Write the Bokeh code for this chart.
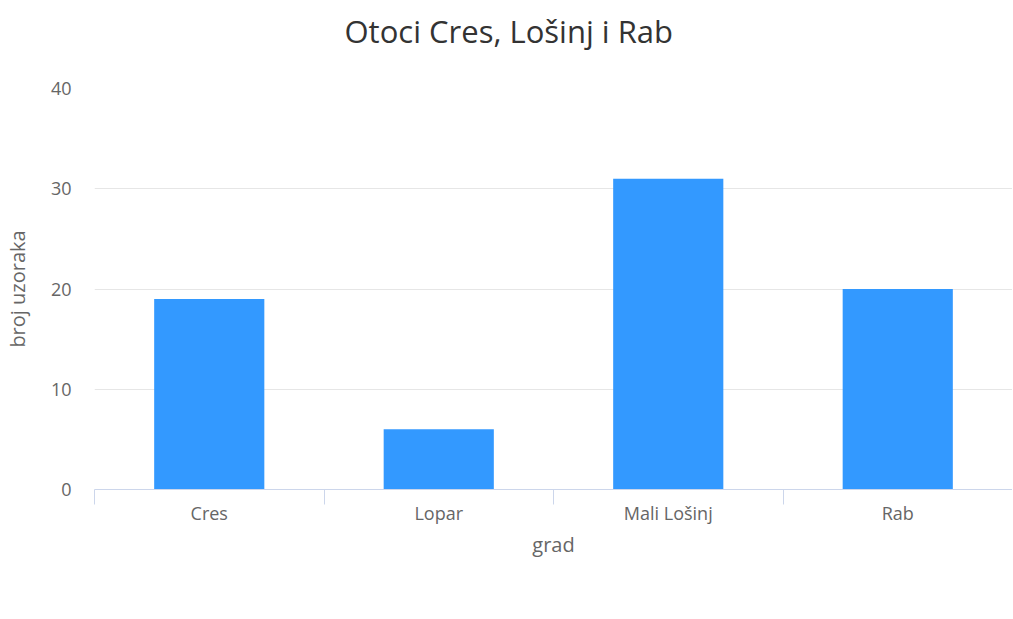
from bokeh.plotting import figure
from bokeh.models import (FactorRange, Range1d, LinearAxis, CategoricalAxis, FixedTicker,
                          Legend, LegendItem, ColumnDataSource, Title)
from bokeh.embed import file_html
from bokeh.resources import INLINE

# ---- data ----
title_text = "Otoci Cres, Lošinj i Rab"
cities = ["Cres", "Lopar", "Mali Lošinj", "Rab"]
izvrsno = [19, 6, 31, 20]
series_names = ["izvrsno", "dobro", "zadovoljavajuće", "nezadovoljavajuće"]
series_colors = ["#3399ff", "#00ff00", "#bbbb00", "#ff0000"]
y_ticks = [0, 10, 20, 30, 40]
x_title = "grad"
y_title = "broj uzoraka"

FONT = "Open Sans"

p = figure(frame_width=918, frame_height=401, title=None,
           x_range=FactorRange(*cities, range_padding=0),
           y_range=Range1d(y_ticks[0], y_ticks[-1]),
           output_backend="svg", toolbar_location=None,
           x_axis_location=None, y_axis_location=None,
           min_border_left=87, min_border_right=0,
           min_border_top=88, min_border_bottom=122)
p.outline_line_color = None
p.background_fill_color = "white"
p.border_fill_color = "white"

# ---- top area: invisible spacer (inner) + main title (outer) ----
spacer = LinearAxis(ticker=FixedTicker(ticks=[0]), axis_line_color=None,
                    major_tick_line_color=None, major_tick_out=37, major_tick_in=0,
                    minor_tick_out=0, minor_tick_in=0, major_label_standoff=0,
                    major_label_overrides={0: ""}, major_label_text_font_size="0px")
p.add_layout(spacer, "above")

p.add_layout(Title(text=title_text, text_font=FONT, text_font_size="31px",
                   text_font_style="normal", text_color="#333333",
                   align="left", offset=250, standoff=0), "above")

# grids
p.xgrid.visible = False
p.ygrid.ticker = FixedTicker(ticks=y_ticks)
p.ygrid.grid_line_color = "#e6e6e6"
p.ygrid.grid_line_width = 1

# boundary ticks between categories (synthetic coordinates of the factor range)
edge_ticks = list(range(len(cities) + 1))
edge_axis = LinearAxis(ticker=FixedTicker(ticks=edge_ticks),
                       axis_line_color="#ccd6eb", major_tick_line_color="#ccd6eb",
                       major_tick_out=15, major_tick_in=0,
                       minor_tick_out=0, minor_tick_in=0, minor_tick_line_color=None,
                       major_label_overrides={t: "" for t in edge_ticks},
                       major_label_text_font_size="0px", major_label_standoff=0)
p.add_layout(edge_axis, "below")

cat_axis = CategoricalAxis(axis_line_color=None, major_tick_line_color=None,
                           major_tick_out=0, major_tick_in=0,
                           major_label_standoff=-4,
                           major_label_text_font=FONT, major_label_text_font_size="18px",
                           major_label_text_color="#666666",
                           axis_label=x_title, axis_label_standoff=3,
                           axis_label_text_font=FONT, axis_label_text_font_size="20px",
                           axis_label_text_color="#666666", axis_label_text_font_style="normal")
p.add_layout(cat_axis, "below")

y_axis = LinearAxis(ticker=FixedTicker(ticks=y_ticks),
                    axis_line_color=None, major_tick_line_color=None, minor_tick_line_color=None,
                    major_tick_out=0, major_tick_in=0, minor_tick_out=0, minor_tick_in=0,
                    major_label_standoff=23,
                    major_label_text_font=FONT, major_label_text_font_size="18px",
                    major_label_text_color="#666666",
                    axis_label=y_title, axis_label_standoff=17,
                    axis_label_text_font=FONT, axis_label_text_font_size="20px",
                    axis_label_text_color="#666666", axis_label_text_font_style="normal")
p.add_layout(y_axis, "left")

# bars
src = ColumnDataSource(dict(city=cities, val=izvrsno))
p.vbar(x="city", top="val", width=0.48, source=src,
       fill_color=series_colors[0], line_color=None)

# legend proxies
items = []
for name, color in zip(series_names, series_colors):
    r = p.scatter(x=[], y=[], size=20, marker="circle", fill_color=color, line_color=None)
    items.append(LegendItem(label=name, renderers=[r]))

legend = Legend(items=items, location="center", orientation="horizontal",
                glyph_width=50, glyph_height=56, label_standoff=-4, spacing=17,
                padding=0, margin=0, border_line_color=None, background_fill_alpha=0,
                label_text_font=FONT, label_text_font_size="20px",
                label_text_font_style="bold", label_text_color="#333333")
p.add_layout(legend, "below")

open("out.html", "w").write(file_html(p, INLINE))
